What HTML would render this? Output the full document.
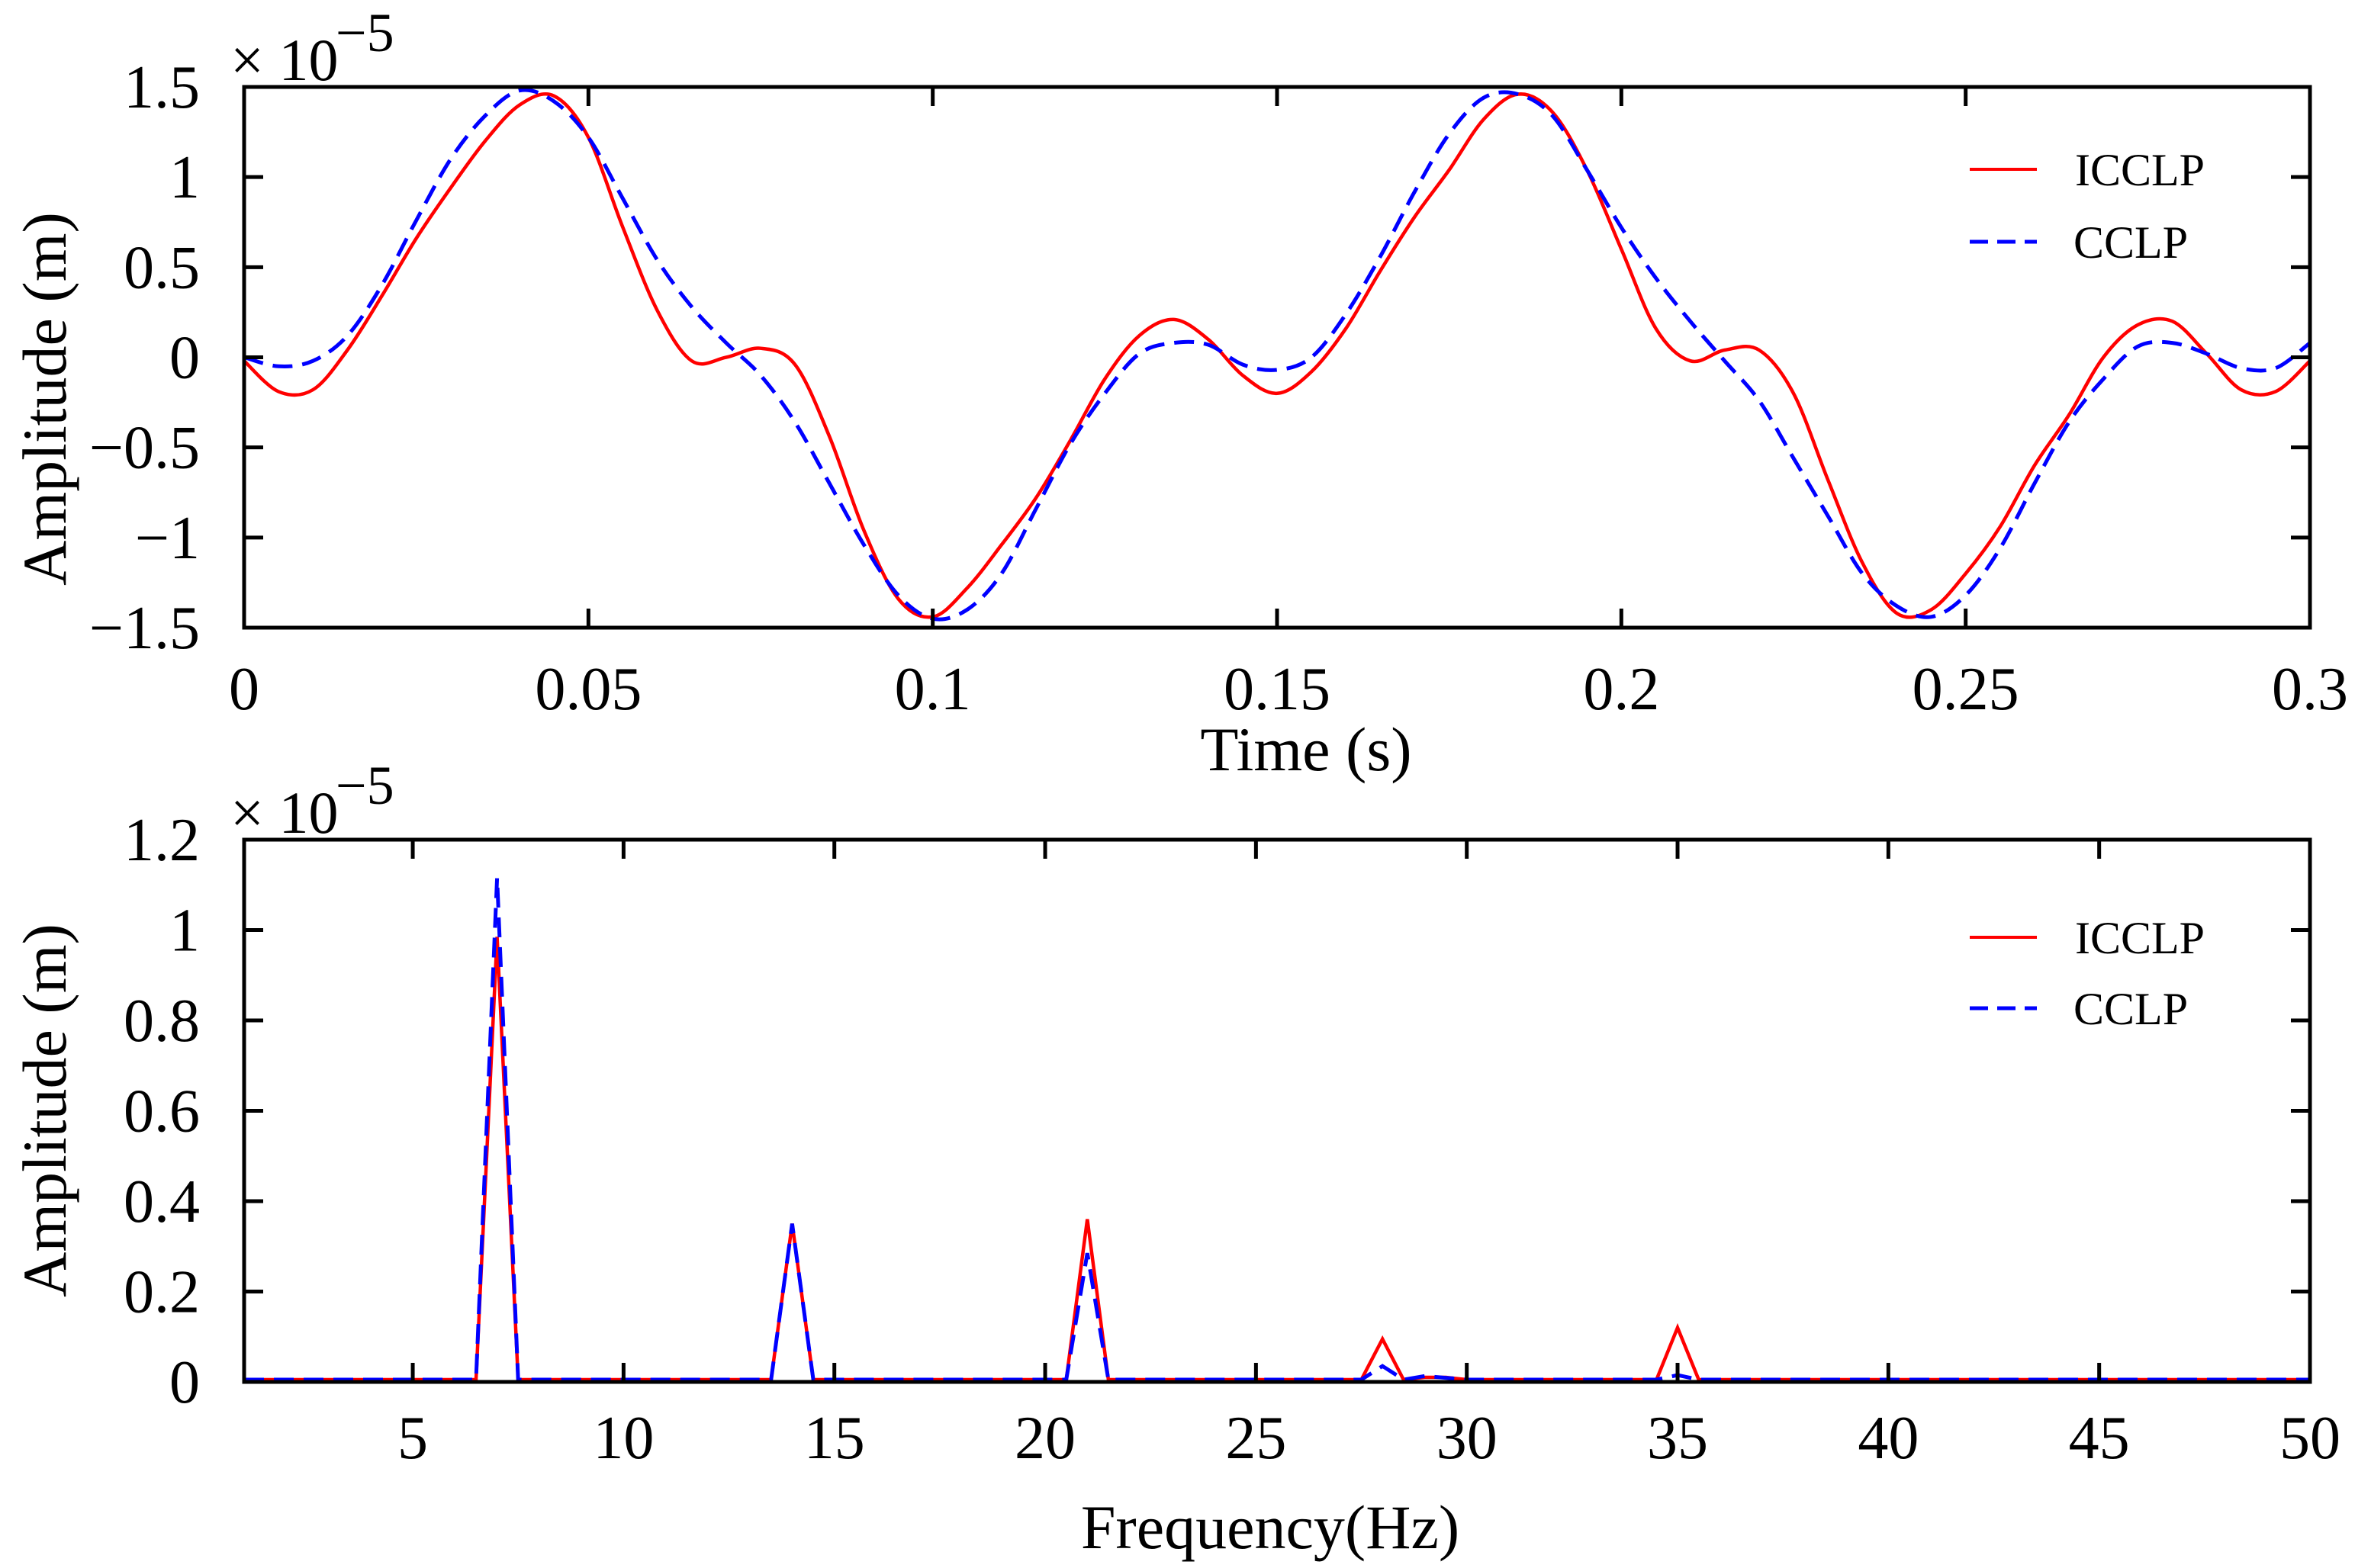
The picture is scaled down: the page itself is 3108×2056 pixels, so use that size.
<!DOCTYPE html>
<html><head><meta charset="utf-8"><style>
html,body{margin:0;padding:0;background:#fff}
svg{display:block}
text{font-family:"Liberation Serif",serif;fill:#000}
</style></head><body>
<svg id="fig" width="3108" height="2056" viewBox="0 0 3108 2056" xmlns="http://www.w3.org/2000/svg">
<g id="top"></g>
<g id="bot"></g>
</svg>
<script>
// ---- Top chart data (time domain, units 1e-5 m) ----
const timeT = [0,0.005,0.01,0.015,0.02,0.025,0.03,0.035,0.04,0.045,0.05,0.055,0.06,0.065,0.07,0.075,0.08,0.085,0.09,0.095,0.1,0.105,0.11,0.115,0.12,0.125,0.13,0.135,0.14,0.145,0.15,0.155,0.16,0.165,0.17,0.175,0.18,0.185,0.19,0.195,0.2,0.205,0.21,0.215,0.22,0.225,0.23,0.235,0.24,0.245,0.25,0.255,0.26,0.265,0.27,0.275,0.28,0.285,0.29,0.295,0.3];
const icclpTime = [-0.02,-0.19,-0.18,0.04,0.34,0.66,0.94,1.2,1.4,1.45,1.22,0.72,0.26,-0.02,0.0,0.05,-0.04,-0.44,-0.96,-1.34,-1.44,-1.28,-1.04,-0.78,-0.46,-0.12,0.12,0.21,0.1,-0.1,-0.2,-0.08,0.16,0.48,0.78,1.04,1.32,1.46,1.36,1.04,0.6,0.16,-0.02,0.04,0.04,-0.2,-0.68,-1.14,-1.42,-1.4,-1.2,-0.94,-0.6,-0.32,0.0,0.18,0.2,0.02,-0.18,-0.19,-0.02];
const cclpTime = [0.0,-0.05,-0.02,0.12,0.4,0.76,1.1,1.34,1.48,1.42,1.22,0.88,0.54,0.28,0.08,-0.1,-0.36,-0.7,-1.04,-1.32,-1.45,-1.4,-1.2,-0.84,-0.48,-0.2,0.02,0.08,0.07,-0.04,-0.07,0.0,0.24,0.56,0.92,1.24,1.44,1.46,1.34,1.04,0.72,0.44,0.2,-0.02,-0.24,-0.56,-0.88,-1.2,-1.38,-1.44,-1.32,-1.06,-0.7,-0.36,-0.12,0.06,0.08,0.02,-0.06,-0.06,0.08];
const topXTicks = [0,0.05,0.1,0.15,0.2,0.25,0.3];
const topXLabels = ["0","0.05","0.1","0.15","0.2","0.25","0.3"];
const topYTicks = [-1.5,-1,-0.5,0,0.5,1,1.5];
const topYLabels = ["\u22121.5","\u22121","\u22120.5","0","0.5","1","1.5"];
// ---- Bottom chart data (spectrum, units 1e-5 m) ----
const freqHz = [1,6.5,7,7.5,13.5,14,14.5,20.5,21,21.5,27.5,28,28.5,29,29.5,30,34.5,35,35.5,50];
const icclpAmp = [0,0,0.98,0,0,0.345,0,0,0.355,0,0,0.09,0,0.005,0.005,0,0,0.115,0,0];
const cclpAmp = [0,0,1.11,0,0,0.345,0,0,0.28,0,0,0.03,0,0.008,0.004,0,0,0.01,0,0];
const botXTicks = [5,10,15,20,25,30,35,40,45,50];
const botXLabels = ["5","10","15","20","25","30","35","40","45","50"];
const botYTicks = [0,0.2,0.4,0.6,0.8,1,1.2];
const botYLabels = ["0","0.2","0.4","0.6","0.8","1","1.2"];

const NS="http://www.w3.org/2000/svg";
function mk(tag,parent,attrs){const e=document.createElementNS(NS,tag);for(const k in attrs)e.setAttribute(k,attrs[k]);parent.appendChild(e);return e;}
function txt(parent,x,y,s,size,anchor){const t=mk('text',parent,{x:x,y:y,'font-size':size,'text-anchor':anchor||'middle'});t.textContent=s;return t;}

function catmull(pts){let d='M'+pts[0][0]+','+pts[0][1];
 for(let i=0;i<pts.length-1;i++){const p0=pts[Math.max(0,i-1)],p1=pts[i],p2=pts[i+1],p3=pts[Math.min(pts.length-1,i+2)];
  const c1x=p1[0]+(p2[0]-p0[0])/6,c1y=p1[1]+(p2[1]-p0[1])/6,c2x=p2[0]-(p3[0]-p1[0])/6,c2y=p2[1]-(p3[1]-p1[1])/6;
  d+=' C'+c1x.toFixed(1)+','+c1y.toFixed(1)+' '+c2x.toFixed(1)+','+c2y.toFixed(1)+' '+p2[0].toFixed(1)+','+p2[1].toFixed(1);}
 return d;}

function axesFrame(g,L,T,R,B,xs,ys,xT,xL,yT,yL,xLabY){
 for(let i=0;i<xT.length;i++){const x=xs(xT[i]);
  let l=mk('line',g,{x1:x,y1:B,x2:x,y2:B-25,stroke:'#000','stroke-width':5});
  
  
  l=mk('line',g,{x1:x,y1:T,x2:x,y2:T+25,stroke:'#000','stroke-width':5});
  
  
  const t=txt(g,x,xLabY,xL[i],80);
  
  }
 for(let i=0;i<yT.length;i++){const y=ys(yT[i]);
  let l=mk('line',g,{x1:L,y1:y,x2:L+25,y2:y,stroke:'#000','stroke-width':5});
  
  
  l=mk('line',g,{x1:R,y1:y,x2:R-25,y2:y,stroke:'#000','stroke-width':5});
  
  
  const t=txt(g,L-58,y+27,yL[i],80,'end');
  
  }
 const r=mk('rect',g,{x:L,y:T,width:R-L,height:B-T,fill:'none',stroke:'#000','stroke-width':5});
 
 
}
function expo(g,x,y){
 const a=txt(g,x,y,'\u00d7 10',78,'start');
 
 
 const b=txt(g,x+138,y-38,'\u22125',72,'start');
 
 
}
function legend(g,x,y1,y2){
 let l=mk('line',g,{x1:x,y1:y1,x2:x+88,y2:y1,stroke:'#ff0000','stroke-width':4});
 
 
 let t=txt(g,x+138,y1+21,'ICCLP',60,'start');
 
 
 l=mk('line',g,{x1:x,y1:y2,x2:x+88,y2:y2,stroke:'#0000ff','stroke-width':5,'stroke-dasharray':'24 12'});
 
 
 t=txt(g,x+136,y2+21,'CCLP',60,'start');
 
 
}

// TOP
(function(){const g=document.getElementById('top');
 const L=320,R=3028,T=114,B=823;
 const xs=v=>L+(v-0)/0.3*(R-L), ys=v=>B-(v+1.5)/3*(B-T);
 let p=mk('path',g,{d:catmull(timeT.map((t,i)=>[xs(t),ys(icclpTime[i])])),fill:'none',stroke:'#ff0000','stroke-width':4.5});
 
 
 p=mk('path',g,{d:catmull(timeT.map((t,i)=>[xs(t),ys(cclpTime[i])])),fill:'none',stroke:'#0000ff','stroke-width':5,'stroke-dasharray':'26 13'});
 
 
 axesFrame(g,L,T,R,B,xs,ys,topXTicks,topXLabels,topYTicks,topYLabels,930);
 expo(g,302,105);
 legend(g,2582,222,317);
 let t=txt(g,1712,1010,'Time (s)',82);
 
 
 t=txt(g,0,0,'Amplitude (m)',82);
 t.setAttribute('transform','translate(86,523) rotate(-90)');
 
 
})();
// BOTTOM
(function(){const g=document.getElementById('bot');
 const L=320,R=3028,T=1101,B=1812;
 const xs=v=>L+(v-1)/49*(R-L), ys=v=>B-v/1.2*(B-T);
 let p=mk('polyline',g,{points:freqHz.map((f,i)=>xs(f).toFixed(1)+','+(ys(icclpAmp[i])-3).toFixed(1)).join(' '),fill:'none',stroke:'#ff0000','stroke-width':4.5});
 
 
 p=mk('polyline',g,{points:freqHz.map((f,i)=>xs(f).toFixed(1)+','+(ys(cclpAmp[i])-3).toFixed(1)).join(' '),fill:'none',stroke:'#0000ff','stroke-width':5,'stroke-dasharray':'26 13'});
 
 
 axesFrame(g,L,T,R,B,xs,ys,botXTicks,botXLabels,botYTicks,botYLabels,1912);
 expo(g,302,1092);
 legend(g,2582,1229,1322);
 let t=txt(g,1665,2030,'Frequency(Hz)',82);
 
 
 t=txt(g,0,0,'Amplitude (m)',82);
 t.setAttribute('transform','translate(86,1456) rotate(-90)');
 
 
})();
</script>
</body></html>
